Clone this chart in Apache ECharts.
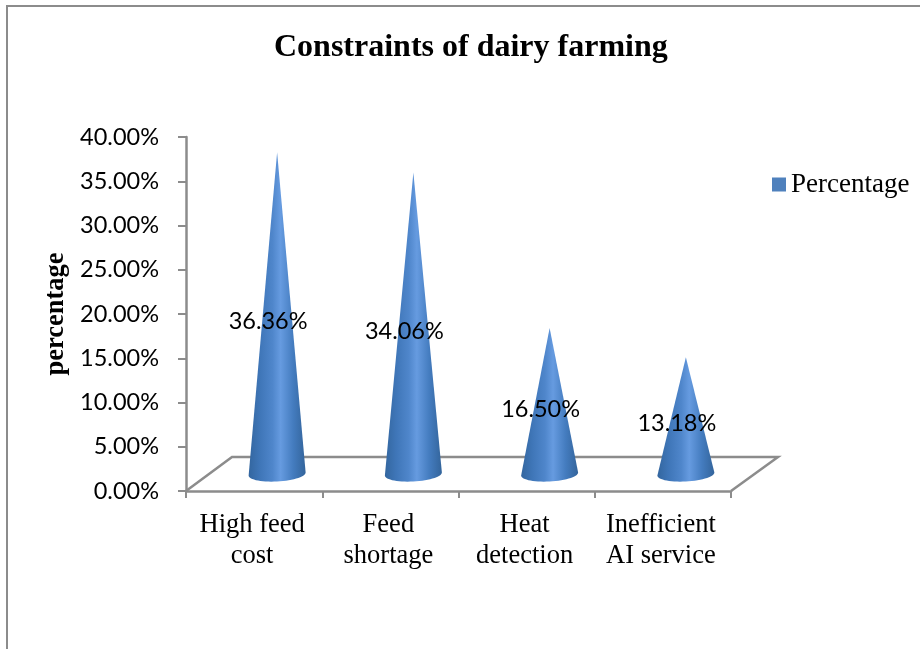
<!DOCTYPE html>
<html>
<head>
<meta charset="utf-8">
<style>html,body{margin:0;padding:0;background:#fff}#c{width:920px;height:649px}</style>
<script src="https://cdn.jsdelivr.net/npm/echarts@6/dist/echarts.min.js"></script>
</head>
<body>
<div id="c"></div>
<script>
var chartTitle = 'Constraints of dairy farming';
var categories = ['High feed\ncost', 'Feed\nshortage', 'Heat\ndetection', 'Inefficient\nAI service'];
var percentages = [36.36, 34.06, 16.50, 13.18];
var seriesName = 'Percentage';
var yAxisName = 'percentage';

var SERIF = '"Liberation Serif", "Times New Roman", serif';
var SANS = 'Lato, Carlito, Calibri, sans-serif';
var AXIS_GREY = '#8c8c8c';
var DEPTH_X = 46, DEPTH_Y = 34;
var CONE_RX = 28.5, CONE_RY = 7.5, CONE_TILT = 1.5;

var chart = echarts.init(document.getElementById('c'), null, {renderer: 'canvas'});

function renderFloor(params, api) {
  var cs = params.coordSys;
  var bl = [cs.x, cs.y + cs.height];
  var br = [cs.x + cs.width, cs.y + cs.height];
  return {
    type: 'polyline',
    shape: {points: [bl, [bl[0] + DEPTH_X, bl[1] - DEPTH_Y], [br[0] + DEPTH_X + 1, br[1] - DEPTH_Y], br]},
    style: {stroke: AXIS_GREY, lineWidth: 2.5, fill: null}
  };
}

function renderCone(params, api) {
  var idx = api.value(0), val = api.value(1);
  var base = api.coord([idx, 0]);
  var top = api.coord([idx, val]);
  var cx = base[0] + DEPTH_X / 2;
  var by = base[1] - DEPTH_Y / 2;
  var ay = top[1] - DEPTH_Y / 2;
  var pts = [[cx, ay]];
  for (var a = 0; a <= 180; a += 6) {
    var r = a * Math.PI / 180;
    pts.push([cx + CONE_RX * Math.cos(r), by + CONE_RY * Math.sin(r) - CONE_TILT * Math.cos(r)]);
  }
  var midY = (ay + by) / 2;
  return {
    type: 'group',
    children: [
      {
        type: 'polygon',
        shape: {points: pts},
        style: {
          fill: new echarts.graphic.LinearGradient(0, 0, 1, 0, [
            {offset: 0, color: '#33669f'},
            {offset: 0.2, color: '#3f76b8'},
            {offset: 0.42, color: '#4f86cb'},
            {offset: 0.56, color: '#669be0'},
            {offset: 0.78, color: '#447cbf'},
            {offset: 1, color: '#33649b'}
          ])
        }
      },
      {
        type: 'text',
        z2: 10,
        style: {
          text: val.toFixed(2) + '%',
          x: cx - 9,
          y: midY + 8,
          align: 'center',
          verticalAlign: 'middle',
          font: '23.5px ' + SANS,
          fill: '#000'
        }
      }
    ]
  };
}

chart.setOption({
  animation: false,
  backgroundColor: '#fff',
  title: {
    text: chartTitle,
    left: 269,
    top: 27,
    textStyle: {fontFamily: SERIF, fontWeight: 'bold', fontSize: 32, color: '#000'}
  },
  legend: {
    data: [seriesName],
    left: 767,
    top: 166,
    icon: 'rect',
    itemWidth: 14,
    itemHeight: 14,
    itemGap: 0,
    textStyle: {fontFamily: SERIF, fontSize: 27, color: '#000', padding: [0, 0, 0, 0]}
  },
  grid: {left: 186, top: 137, width: 545, height: 354},
  xAxis: {
    type: 'category',
    data: categories,
    axisLine: {lineStyle: {color: AXIS_GREY, width: 2.5}},
    axisTick: {show: true, length: 7, lineStyle: {color: AXIS_GREY, width: 2}},
    axisLabel: {interval: 0, margin: 19, padding: [0, 4, 0, 0], fontFamily: SERIF, fontSize: 26.5, lineHeight: 31, color: '#000'}
  },
  yAxis: {
    type: 'value',
    min: 0,
    max: 40,
    interval: 5,
    name: yAxisName,
    nameLocation: 'middle',
    nameGap: 105,
    nameRotate: 90,
    nameTextStyle: {fontFamily: SERIF, fontWeight: 'bold', fontSize: 26.5, color: '#000'},
    splitLine: {show: false},
    axisLine: {show: true, lineStyle: {color: AXIS_GREY, width: 2.5}},
    axisTick: {show: true, length: 8, lineStyle: {color: AXIS_GREY, width: 2}},
    axisLabel: {
      margin: 27,
      fontFamily: SANS,
      fontSize: 23.5,
      color: '#000',
      formatter: function (v) { return v.toFixed(2) + '%'; }
    }
  },
  graphic: [{
    type: 'polyline',
    shape: {points: [[7, 649], [7, 6], [920, 6]]},
    style: {stroke: AXIS_GREY, lineWidth: 2, fill: null}
  }],
  series: [
    {
      name: 'floor',
      type: 'custom',
      coordinateSystem: 'cartesian2d',
      silent: true,
      z: 1,
      renderItem: renderFloor,
      data: [[0, 0]]
    },
    {
      name: seriesName,
      type: 'custom',
      coordinateSystem: 'cartesian2d',
      z: 3,
      itemStyle: {color: '#4f81bd'},
      encode: {x: 0, y: 1},
      renderItem: renderCone,
      data: percentages.map(function (v, i) { return [i, v]; })
    }
  ]
});
</script>
</body>
</html>
